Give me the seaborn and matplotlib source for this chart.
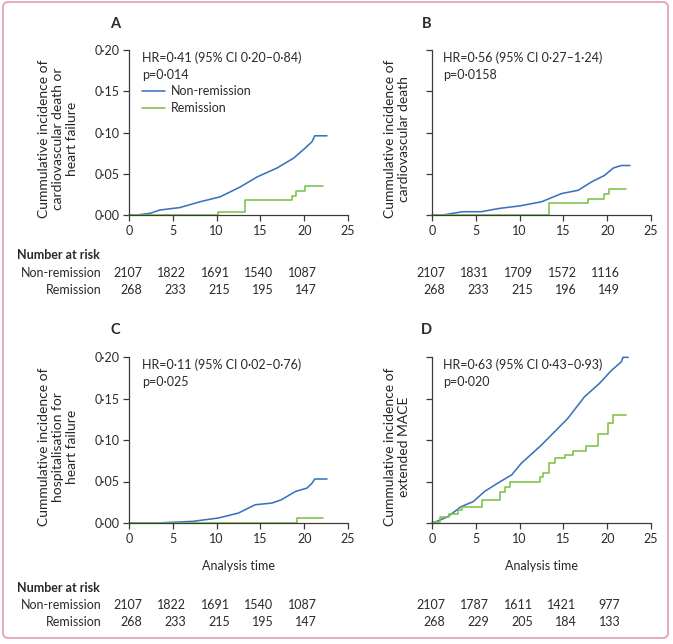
## for visualization
from matplotlib import pyplot as plt; import seaborn as sns
from matplotlib.patches import FancyBboxPatch
from matplotlib.transforms import blended_transform_factory
import pandas as pd
import numpy as np

## data
panels = ["A", "B", "C", "D"]
ylabels = ["Cummulative incidence of\ncardiovascular death or\nheart failure",
           "Cummulative incidence of\ncardiovascular death",
           "Cummulative incidence of\nhospitalisation for\nheart failure",
           "Cummulative incidence of\nextended MACE"]
hr_text = ["HR=0·41 (95% CI 0·20–0·84)", "HR=0·56 (95% CI 0·27–1·24)",
           "HR=0·11 (95% CI 0·02–0·76)", "HR=0·63 (95% CI 0·43–0·93)"]
p_text = ["p=0·014", "p=0·0158", "p=0·025", "p=0·020"]

time_A_nonrem = [0, 0.9, 2.4, 3.5, 5.8, 8.1, 10.4, 12.7, 14.6, 16.9, 18.8, 20.1, 20.9, 21.2, 22.6]
inc_A_nonrem = [0, 0, 0.002, 0.006, 0.009, 0.016, 0.022, 0.034, 0.046, 0.057, 0.069, 0.081, 0.089, 0.096, 0.096]
time_A_rem = [0, 10.2, 13.2, 18.6, 19.1, 20.1, 22.2]
inc_A_rem = [0, 0.0035, 0.018, 0.023, 0.029, 0.035, 0.035]

time_B_nonrem = [0, 1.25, 3.5, 5.6, 7.7, 10.0, 12.5, 14.8, 16.7, 18.2, 19.7, 20.7, 21.6, 22.6]
inc_B_nonrem = [0, 0, 0.004, 0.004, 0.008, 0.011, 0.016, 0.026, 0.030, 0.040, 0.048, 0.057, 0.060, 0.060]
time_B_rem = [0, 13.3, 17.85, 19.6, 20.2, 22.1]
inc_B_rem = [0, 0.015, 0.019, 0.025, 0.032, 0.032]

time_C_nonrem = [0, 3.2, 7.3, 10.2, 12.5, 14.4, 16.3, 17.4, 19.0, 20.3, 20.9, 21.2, 22.6]
inc_C_nonrem = [0, 0, 0.002, 0.006, 0.012, 0.022, 0.024, 0.028, 0.038, 0.042, 0.048, 0.053, 0.053]
time_C_rem = [0, 19.2, 22.1]
inc_C_rem = [0, 0.0057, 0.0057]

time_D_nonrem = [0, 0.1, 1.8, 3.3, 4.7, 6.0, 7.5, 9.1, 10.2, 12.5, 14.0, 15.5, 17.4, 19.1, 20.5, 21.6, 21.8, 22.4]
inc_D_nonrem = [0, 0, 0.0076, 0.0196, 0.0257, 0.038, 0.048, 0.058, 0.072, 0.094, 0.110, 0.126, 0.152, 0.168, 0.184, 0.194, 0.1996, 0.1996]
time_D_rem = [0, 0.9, 1.9, 3.0, 3.4, 5.7, 7.8, 8.3, 8.9, 12.3, 12.7, 13.3, 14.0, 15.2, 16.1, 17.6, 19.0, 20.1, 20.7, 22.1]
inc_D_rem = [0.0016, 0.0068, 0.0108, 0.0157, 0.0196, 0.0277, 0.037, 0.043, 0.049, 0.055, 0.0598, 0.0719, 0.0779, 0.0819, 0.087, 0.0928, 0.107, 0.120, 0.130, 0.130]

risk_times = [0, 5, 10, 15, 20]
risk_A_nonrem = [2107, 1822, 1691, 1540, 1087]
risk_A_rem = [268, 233, 215, 195, 147]
risk_B_nonrem = [2107, 1831, 1709, 1572, 1116]
risk_B_rem = [268, 233, 215, 196, 149]
risk_C_nonrem = [2107, 1822, 1691, 1540, 1087]
risk_C_rem = [268, 233, 215, 195, 147]
risk_D_nonrem = [2107, 1787, 1611, 1421, 977]
risk_D_rem = [268, 229, 205, 184, 133]

curves = {
    "A": (time_A_nonrem, inc_A_nonrem, time_A_rem, inc_A_rem, risk_A_nonrem, risk_A_rem),
    "B": (time_B_nonrem, inc_B_nonrem, time_B_rem, inc_B_rem, risk_B_nonrem, risk_B_rem),
    "C": (time_C_nonrem, inc_C_nonrem, time_C_rem, inc_C_rem, risk_C_nonrem, risk_C_rem),
    "D": (time_D_nonrem, inc_D_nonrem, time_D_rem, inc_D_rem, risk_D_nonrem, risk_D_rem),
}

BLUE = "#3a72bd"
GREEN = "#7cc24a"
TXT = "#2a2a2a"
FS = 9

sns.set_style("ticks")
plt.rcParams['font.family'] = ['Lato', 'DejaVu Sans']
plt.rcParams['text.color'] = TXT
plt.rcParams['axes.edgecolor'] = "#3a3a3a"
plt.rcParams['xtick.color'] = "#3a3a3a"
plt.rcParams['ytick.color'] = "#3a3a3a"
plt.rcParams['xtick.labelcolor'] = TXT
plt.rcParams['ytick.labelcolor'] = TXT

fig = plt.figure(figsize=(6.73, 6.44), dpi=100)
W, H = 673, 644
## axes boxes in pixels: left, top, right, bottom
boxes = {"A": (129, 50, 348, 215), "B": (432, 50, 651, 215),
         "C": (129, 357, 348, 523), "D": (432, 357, 651, 523)}

def dot(v, pos=None):
    return f"{v:.2f}".replace(".", "·")

for i, key in enumerate(panels):
    l, t, r, b = boxes[key]
    ax = fig.add_axes([l / W, 1 - b / H, (r - l) / W, (b - t) / H])
    tn, yn, tr, yr, rn, rr = curves[key]
    df_n = pd.DataFrame({"time": tn, "inc": yn})
    df_r = pd.DataFrame({"time": tr, "inc": yr})
    sns.lineplot(data=df_n, x="time", y="inc", ax=ax, color=BLUE, lw=1.15,
                 label="Non-remission", clip_on=False)
    sns.lineplot(data=df_r, x="time", y="inc", ax=ax, color=GREEN, lw=1.15,
                 drawstyle="steps-post", label="Remission", clip_on=False)
    ax.set_xlim(0, 25); ax.set_ylim(0, 0.2)
    ax.set_xticks([0, 5, 10, 15, 20, 25])
    ax.set_yticks([0, 0.05, 0.10, 0.15, 0.20])
    ax.yaxis.set_major_formatter(plt.FuncFormatter(dot))
    ax.tick_params(direction="out", length=4, width=0.9, labelsize=FS, pad=3)
    if key in ("B", "D"):
        ax.set_yticklabels([])
    sns.despine(ax=ax)
    for s in ("left", "bottom"):
        ax.spines[s].set_linewidth(0.9)
    ax.set_ylabel(ylabels[i], fontsize=10, linespacing=1.2, ha="center", va="center")
    if key in ("A", "C"):
        ax.yaxis.set_label_coords(-0.322, 0.46)
    else:
        ax.yaxis.set_label_coords(-0.162, 0.46)
    if key in ("C", "D"):
        ax.set_xlabel("Analysis time", fontsize=FS)
        ax.xaxis.set_label_coords(0.5, -0.225)
    else:
        ax.set_xlabel("")
    ## panel letter and statistics
    lx = -0.064 if key in ("A", "C") else -0.024
    ax.text(lx, 1.16, key, transform=ax.transAxes, fontsize=10.5,
            fontweight="bold", ha="center", va="center")
    ax.text(0.059 if key in ("A", "C") else 0.05, 0.955, hr_text[i],
            transform=ax.transAxes, fontsize=FS, ha="left", va="center")
    ax.text(0.059 if key in ("A", "C") else 0.05, 0.85, p_text[i],
            transform=ax.transAxes, fontsize=FS, ha="left", va="center")
    if key == "A":
        ax.legend(loc="upper left", bbox_to_anchor=(0.059, 0.785), frameon=False,
                  borderpad=0, borderaxespad=0, handlelength=1.85,
                  handletextpad=0.45, labelspacing=0.4, fontsize=FS)
    else:
        ax.get_legend().remove()
    ## number at risk rows
    tr_ = blended_transform_factory(ax.transData, fig.transFigure)
    if key in ("A", "B"):
        y_hdr, y_n, y_r = 1 - 255 / H, 1 - 273 / H, 1 - 290 / H
    else:
        y_hdr, y_n, y_r = 1 - 588 / H, 1 - 605 / H, 1 - 622 / H
    for tt, n1, n2 in zip(risk_times, rn, rr):
        ax.text(tt + 1.5, y_n, str(n1), transform=tr_, fontsize=FS, ha="right", va="center")
        ax.text(tt + 1.5, y_r, str(n2), transform=tr_, fontsize=FS, ha="right", va="center")
    if key in ("A", "C"):
        fig.text(17 / W, y_hdr, "Number at risk", fontsize=FS, fontweight="bold",
                 ha="left", va="center")
        fig.text(102 / W, y_n, "Non-remission", fontsize=FS, ha="right", va="center")
        fig.text(102 / W, y_r, "Remission", fontsize=FS, ha="right", va="center")

## pink frame around the figure
frame = FancyBboxPatch((3 / W, 6 / H), 665 / W, 636 / H, boxstyle="round,pad=0,rounding_size=0.008",
                       transform=fig.transFigure, facecolor="none", edgecolor="#e8a0b6", lw=1.3)
fig.patches.append(frame)

fig.savefig("out.png", dpi=100)
